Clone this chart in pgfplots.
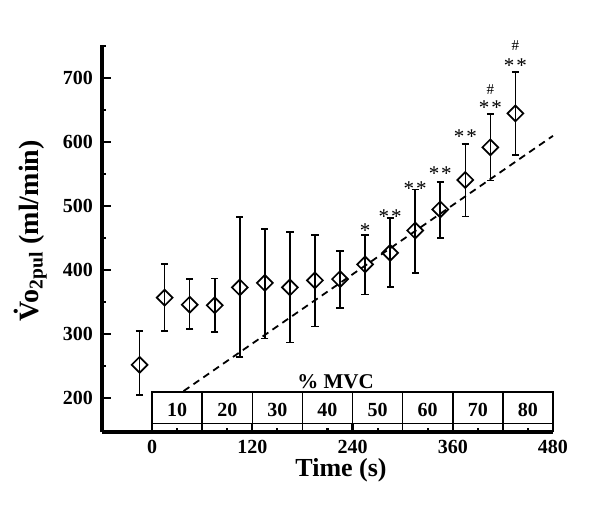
\documentclass[border=0pt]{standalone}
\usepackage{fontspec}
\setmainfont{Liberation Serif}
\usepackage{pgfplots}
\pgfplotsset{compat=1.18}
\begin{document}
\begin{tikzpicture}
\useasboundingbox (0,0) rectangle (300pt,262.5pt);
\begin{axis}[
  at={(51pt,46.5pt)}, anchor=south west,
  scale only axis, width=225.5pt, height=193.5pt,
  xmin=-60, xmax=480, ymin=147, ymax=752,
  axis lines=left,
  axis line style={-, line width=1.8pt},
  tick align=inside,
  xtick={0,120,240,360,480},
  minor xtick={30,90,...,450},
  ytick={200,300,...,700},
  minor ytick={250,350,...,750},
  major tick length=4.5pt, minor tick length=2pt,
  every tick/.style={line width=1.1pt, black},
  /pgf/number format/assume math mode=true,
  ticklabel style={font=\fontsize{10}{12}\selectfont\bfseries},
  yticklabel style={xshift=-1pt},
  xticklabel style={yshift=-0.5pt},
  xlabel={Time (s)},
  ylabel={\.{V}o\textsubscript{2pul} (ml/min)},
  xlabel style={font=\fontsize{13}{15}\selectfont\bfseries, at={(axis description cs:0.53,-0.1)}, anchor=center},
  ylabel style={font=\fontsize{14}{16}\selectfont\bfseries, at={(axis description cs:-0.158,0.52)}, anchor=center},
  clip=false,
]
% regression line
\addplot[black, dash pattern=on 3.5pt off 2.5pt, line width=0.9pt, mark=none]
  coordinates {(37.7,211) (480,610)};
% data
\addplot[black, only marks, mark=square, mark size=2.8pt,
  mark options={rotate=45, fill=white, line width=0.85pt, solid},
  error bars/.cd, y dir=both, y explicit,
  error bar style={line width=0.8pt, solid},
  error mark options={rotate=90, mark size=1.8pt, line width=0.8pt}]
coordinates {
(-15,252) += (0,53) -= (0,47)
(15,357) += (0,53) -= (0,52)
(45,346) += (0,40) -= (0,38)
(75,345) += (0,42) -= (0,42)
(105,373) += (0,110) -= (0,109)
(135,380) += (0,84) -= (0,87)
(165,373) += (0,87) -= (0,86)
(195,384) += (0,71) -= (0,72)
(225,386) += (0,44) -= (0,45)
(255,409) += (0,46) -= (0,47)
(285,427) += (0,55) -= (0,53)
(315,462) += (0,64) -= (0,66)
(345,495) += (0,43) -= (0,45)
(375,541) += (0,56) -= (0,57)
(405,592) += (0,52) -= (0,52)
(435,645) += (0,65) -= (0,65)
};
% significance stars
\addplot[draw=none, mark=none, nodes near coords, point meta=explicit symbolic,
  nodes near coords style={anchor=center, yshift=-1.7pt, font=\fontsize{10.5}{12}\selectfont}]
coordinates {
(255,466.7)[*]
(285,489.5)[*\kern1pt*]
(315,533.3)[*\kern1pt*]
(345,556.3)[*\kern1pt*]
(375,613.6)[*\kern1pt*]
(405,658.9)[*\kern1pt*]
(435,724.5)[*\kern1pt*]
};
\addplot[draw=none, mark=none, nodes near coords, point meta=explicit symbolic,
  nodes near coords style={anchor=center, font=\fontsize{7.5}{8}\selectfont}]
coordinates {
(405,682.3)[\#]
(435,750.5)[\#]
};
% %MVC box
\draw[line width=0.8pt] (axis cs:0,160) rectangle (axis cs:480,210);
\pgfplotsinvokeforeach{0,60,120,180,240,300,360,420,480}{
  \draw[line width=0.8pt] (axis cs:#1,147) -- (axis cs:#1,210);
}
\addplot[draw=none, mark=none, nodes near coords, point meta=explicit symbolic,
  nodes near coords style={anchor=center, font=\fontsize{10}{12}\selectfont\bfseries}]
coordinates {
(30,181.7)[10] (90,181.7)[20] (150,181.7)[30] (210,181.7)[40]
(270,181.7)[50] (330,181.7)[60] (390,181.7)[70] (450,181.7)[80]
};
\addplot[draw=none, mark=none, nodes near coords, point meta=explicit symbolic,
  nodes near coords style={anchor=center, font=\fontsize{10.5}{12}\selectfont\bfseries}]
coordinates {(219.6,225.5)[\%~MVC]};
\end{axis}
\end{tikzpicture}
\end{document}
